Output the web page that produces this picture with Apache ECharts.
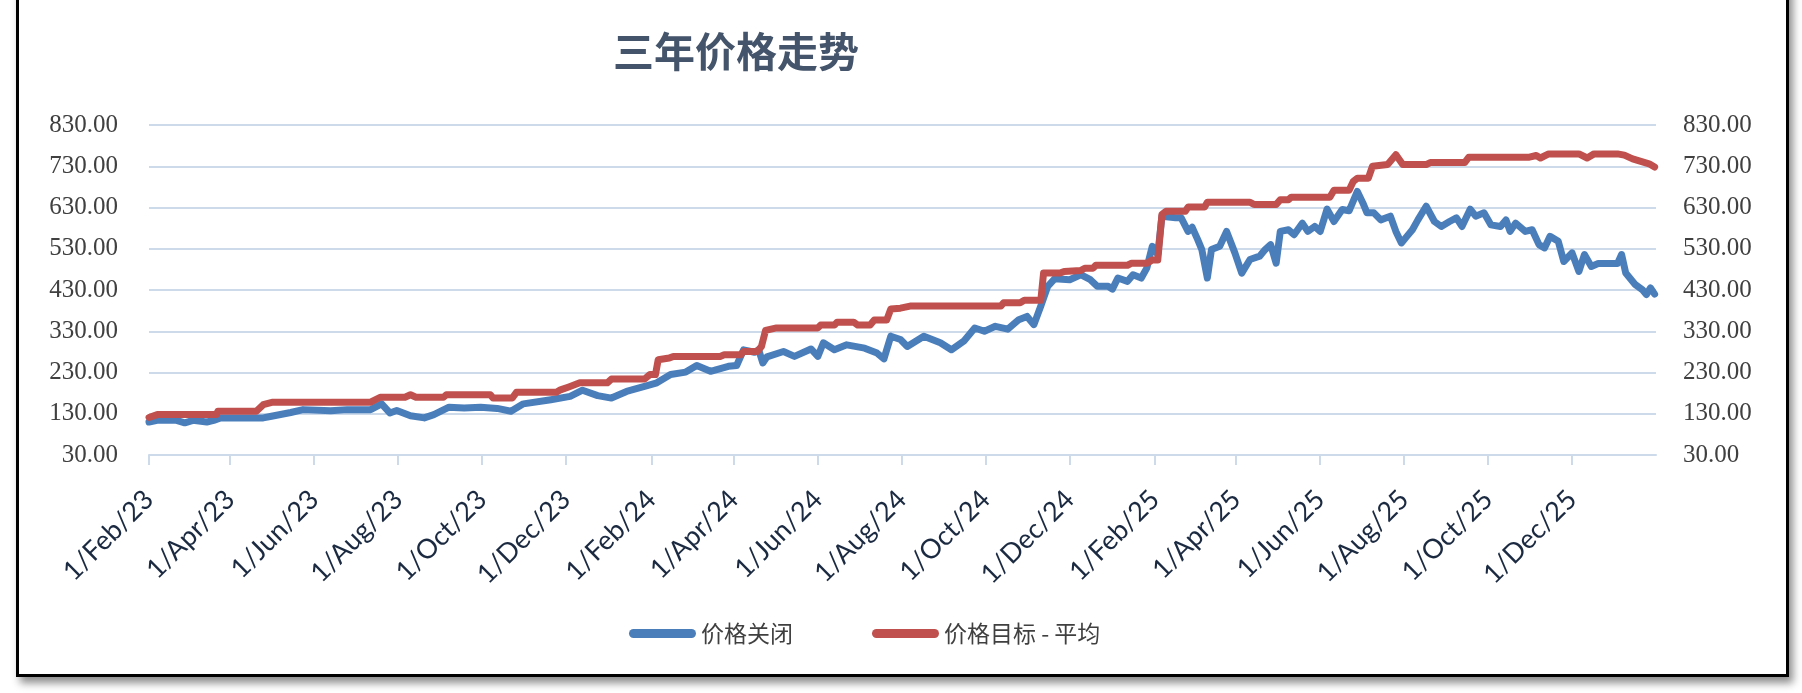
<!DOCTYPE html>
<html>
<head>
<meta charset="utf-8">
<script src="https://cdn.jsdelivr.net/npm/echarts@6/dist/echarts.min.js"></script>
<style>
  html, body { margin: 0; padding: 0; background: #fff; }
  #frame {
    position: absolute; left: 16px; top: -20px; width: 1773px; height: 697px;
    box-sizing: border-box; border: 3px solid #000;
    box-shadow: 4px 6px 8px rgba(0, 0, 0, 0.45);
  }
  #chart { position: absolute; left: 0; top: 0; width: 1802px; height: 693px; }
</style>
</head>
<body>
<div id="frame"></div>
<div id="chart"></div>
<script>
const titleText = '三年价格走势';
const seriesNames = ['价格关闭', '价格目标 - 平均'];
const yTicks = [30, 130, 230, 330, 430, 530, 630, 730, 830];
const monthNames = ['Jan', 'Feb', 'Mar', 'Apr', 'May', 'Jun', 'Jul', 'Aug', 'Sep', 'Oct', 'Nov', 'Dec'];
const labelMonths = [1, 3, 5, 7, 9, 11]; // Feb, Apr, Jun, Aug, Oct, Dec

// closing price
const closePrice = [
  ['2023-02-01', 110], ['2023-02-07', 114], ['2023-02-21', 114], ['2023-02-27', 108],
  ['2023-03-05', 114], ['2023-03-15', 110], ['2023-03-20', 114], ['2023-03-25', 120],
  ['2023-04-25', 120], ['2023-05-01', 124], ['2023-05-15', 133], ['2023-05-24', 140],
  ['2023-06-13', 137], ['2023-06-25', 140], ['2023-07-12', 140], ['2023-07-20', 154],
  ['2023-07-26', 132], ['2023-07-31', 138], ['2023-08-10', 125], ['2023-08-20', 120],
  ['2023-08-27', 128], ['2023-09-07', 146], ['2023-09-18', 144], ['2023-09-30', 146],
  ['2023-10-12', 143], ['2023-10-22', 136], ['2023-10-31', 154], ['2023-11-20', 164],
  ['2023-12-04', 172], ['2023-12-13', 187], ['2023-12-24', 174], ['2024-01-03', 168],
  ['2024-01-14', 184], ['2024-01-29', 198], ['2024-02-05', 205], ['2024-02-15', 225],
  ['2024-02-26', 231], ['2024-03-05', 247], ['2024-03-15', 233], ['2024-03-28', 245],
  ['2024-04-03', 247], ['2024-04-08', 285], ['2024-04-16', 279], ['2024-04-19', 285],
  ['2024-04-22', 253], ['2024-04-25', 268], ['2024-05-07', 281], ['2024-05-15', 269],
  ['2024-05-27', 287], ['2024-06-01', 269], ['2024-06-05', 302], ['2024-06-13', 285],
  ['2024-06-22', 297], ['2024-07-05', 289], ['2024-07-14', 277], ['2024-07-19', 263],
  ['2024-07-24', 318], ['2024-07-31', 310], ['2024-08-05', 293], ['2024-08-17', 318],
  ['2024-08-29', 302], ['2024-09-06', 285], ['2024-09-15', 306], ['2024-09-23', 338],
  ['2024-09-30', 330], ['2024-10-08', 342], ['2024-10-17', 335], ['2024-10-25', 358],
  ['2024-10-31', 366], ['2024-11-05', 346], ['2024-11-10', 391], ['2024-11-15', 439],
  ['2024-11-20', 457], ['2024-12-01', 455], ['2024-12-09', 467], ['2024-12-16', 455],
  ['2024-12-21', 439], ['2024-12-29', 439], ['2025-01-01', 432], ['2025-01-05', 459],
  ['2025-01-12', 451], ['2025-01-16', 467], ['2025-01-22', 459], ['2025-01-26', 483],
  ['2025-01-30', 536], ['2025-02-03', 516], ['2025-02-06', 609], ['2025-02-16', 605],
  ['2025-02-20', 605], ['2025-02-25', 572], ['2025-02-28', 582], ['2025-03-04', 552],
  ['2025-03-07', 528], ['2025-03-11', 459], ['2025-03-14', 528], ['2025-03-20', 536],
  ['2025-03-25', 572], ['2025-03-31', 520], ['2025-04-05', 471], ['2025-04-11', 504],
  ['2025-04-18', 512], ['2025-04-22', 528], ['2025-04-26', 540], ['2025-04-30', 495],
  ['2025-05-03', 572], ['2025-05-09', 576], ['2025-05-13', 564], ['2025-05-19', 592],
  ['2025-05-23', 572], ['2025-05-28', 584], ['2025-06-01', 572], ['2025-06-06', 626],
  ['2025-06-11', 596], ['2025-06-17', 625], ['2025-06-22', 622], ['2025-06-28', 669],
  ['2025-07-02', 641], ['2025-07-05', 617], ['2025-07-10', 617], ['2025-07-15', 600],
  ['2025-07-22', 609], ['2025-07-26', 572], ['2025-07-30', 544], ['2025-08-03', 560],
  ['2025-08-07', 576], ['2025-08-11', 600], ['2025-08-17', 633], ['2025-08-23', 596],
  ['2025-08-28', 584], ['2025-09-03', 596], ['2025-09-08', 605], ['2025-09-12', 584],
  ['2025-09-18', 626], ['2025-09-22', 609], ['2025-09-28', 617], ['2025-10-03', 588],
  ['2025-10-10', 584], ['2025-10-14', 600], ['2025-10-17', 572], ['2025-10-21', 592],
  ['2025-10-28', 572], ['2025-11-02', 576], ['2025-11-07', 540], ['2025-11-11', 532],
  ['2025-11-15', 560], ['2025-11-21', 548], ['2025-11-25', 499], ['2025-12-01', 520],
  ['2025-12-06', 475], ['2025-12-10', 516], ['2025-12-15', 487], ['2025-12-20', 494],
  ['2026-01-03', 494], ['2026-01-06', 516], ['2026-01-09', 471], ['2026-01-16', 443],
  ['2026-01-21', 431], ['2026-01-24', 419], ['2026-01-27', 435], ['2026-01-30', 420]
];

// average price target
const targetAvg = [
  ['2023-02-01', 121], ['2023-02-07', 128], ['2023-03-22', 128], ['2023-03-23', 136],
  ['2023-04-20', 136], ['2023-04-25', 152], ['2023-05-02', 158], ['2023-07-12', 158],
  ['2023-07-19', 170], ['2023-08-06', 170], ['2023-08-10', 176], ['2023-08-14', 170],
  ['2023-09-03', 170], ['2023-09-05', 176], ['2023-10-07', 176], ['2023-10-09', 168],
  ['2023-10-23', 168], ['2023-10-26', 182], ['2023-11-24', 182], ['2023-11-27', 188],
  ['2023-12-03', 195], ['2023-12-11', 205], ['2023-12-31', 205], ['2024-01-03', 214],
  ['2024-01-27', 214], ['2024-01-31', 225], ['2024-02-04', 225], ['2024-02-06', 261],
  ['2024-02-14', 265], ['2024-02-17', 269], ['2024-03-22', 269], ['2024-03-25', 273],
  ['2024-04-06', 273], ['2024-04-08', 281], ['2024-04-18', 281], ['2024-04-21', 293],
  ['2024-04-24', 332], ['2024-05-02', 338], ['2024-06-01', 338], ['2024-06-03', 345],
  ['2024-06-13', 345], ['2024-06-15', 352], ['2024-06-27', 352], ['2024-06-30', 345],
  ['2024-07-09', 345], ['2024-07-12', 357], ['2024-07-21', 357], ['2024-07-24', 384],
  ['2024-07-31', 386], ['2024-08-07', 391], ['2024-10-12', 391], ['2024-10-14', 399],
  ['2024-10-26', 399], ['2024-10-29', 405], ['2024-11-10', 405], ['2024-11-12', 471],
  ['2024-11-24', 471], ['2024-11-27', 475], ['2024-12-09', 477], ['2024-12-12', 483],
  ['2024-12-18', 483], ['2024-12-20', 490], ['2025-01-12', 490], ['2025-01-15', 495],
  ['2025-01-26', 495], ['2025-01-30', 503], ['2025-02-03', 503], ['2025-02-06', 613],
  ['2025-02-09', 621], ['2025-02-23', 621], ['2025-02-25', 631], ['2025-03-09', 631],
  ['2025-03-11', 643], ['2025-04-11', 643], ['2025-04-14', 637], ['2025-04-30', 637],
  ['2025-05-03', 649], ['2025-05-09', 649], ['2025-05-11', 655], ['2025-06-08', 655],
  ['2025-06-11', 672], ['2025-06-22', 672], ['2025-06-25', 693], ['2025-06-28', 701],
  ['2025-07-06', 701], ['2025-07-09', 730], ['2025-07-20', 734], ['2025-07-26', 758],
  ['2025-07-31', 734], ['2025-08-17', 734], ['2025-08-20', 739], ['2025-09-14', 739],
  ['2025-09-17', 752], ['2025-10-31', 752], ['2025-11-05', 756], ['2025-11-08', 750],
  ['2025-11-14', 760], ['2025-12-06', 760], ['2025-12-12', 750], ['2025-12-17', 760],
  ['2026-01-03', 760], ['2026-01-08', 757], ['2026-01-14', 748], ['2026-01-20', 742],
  ['2026-01-26', 736], ['2026-01-30', 728]
];

// one category per calendar day, 1 Feb 2023 .. 31 Jan 2026
const days = [];
for (let t = Date.UTC(2023, 1, 1); t <= Date.UTC(2026, 0, 31); t += 86400000) {
  days.push(new Date(t).toISOString().slice(0, 10));
}

const isTickDay = (idx, value) => {
  const m = parseInt(value.slice(5, 7), 10) - 1;
  return value.slice(8) === '01' && labelMonths.indexOf(m) >= 0;
};

const gridColor = '#CCDAEA';
const yLabel = {
  fontFamily: 'Liberation Serif',
  fontSize: 25,
  color: '#404040',
  formatter: (v) => v.toFixed(2),
};

const chart = echarts.init(document.getElementById('chart'));
const option = {
  animation: false,
  title: {
    text: titleText,
    left: 608,
    top: 26,
    textStyle: { fontFamily: 'Noto Sans CJK SC', fontSize: 41, fontWeight: 'bold', color: '#44546A' },
  },
  legend: {
    data: seriesNames,
    left: 624,
    top: 617,
    itemWidth: 67,
    itemHeight: 9,
    itemGap: 79,
    icon: 'path://M4.5,0 L62.5,0 A4.5,4.5 0 0 1 62.5,9 L4.5,9 A4.5,4.5 0 0 1 4.5,0 Z',
    textStyle: { fontFamily: 'Noto Sans CJK SC', fontSize: 23, color: '#404040' },
  },
  grid: { left: 149, right: 146, top: 125, bottom: 238 },
  xAxis: {
    type: 'category',
    data: days,
    boundaryGap: false,
    axisLine: { lineStyle: { color: gridColor, width: 2 } },
    axisTick: { interval: isTickDay, length: 10, lineStyle: { color: gridColor, width: 2 } },
    axisLabel: {
      interval: isTickDay,
      rotate: 45,
      margin: 40,
      fontFamily: 'Lato',
      fontSize: 27,
      color: '#1B2A41',
      formatter: (v) => '1/' + monthNames[parseInt(v.slice(5, 7), 10) - 1] + '/' + v.slice(2, 4),
    },
    splitLine: { show: false },
  },
  yAxis: [
    {
      type: 'value',
      min: yTicks[0],
      max: yTicks[yTicks.length - 1],
      interval: 100,
      axisLine: { show: false },
      axisTick: { show: false },
      axisLabel: { ...yLabel, margin: 31 },
      splitLine: { lineStyle: { color: gridColor, width: 2 } },
    },
    {
      type: 'value',
      position: 'right',
      min: yTicks[0],
      max: yTicks[yTicks.length - 1],
      interval: 100,
      axisLine: { show: false },
      axisTick: { show: false },
      axisLabel: { ...yLabel, margin: 27 },
      splitLine: { show: false },
    },
  ],
  series: [
    {
      name: seriesNames[0],
      type: 'line',
      data: closePrice,
      showSymbol: false,
      color: '#4A7EBB',
      lineStyle: { width: 7, cap: 'round', join: 'round' },
    },
    {
      name: seriesNames[1],
      type: 'line',
      data: targetAvg,
      showSymbol: false,
      color: '#C0504D',
      lineStyle: { width: 7, cap: 'round', join: 'round' },
    },
  ],
};
chart.setOption(option);
</script>
</body>
</html>
